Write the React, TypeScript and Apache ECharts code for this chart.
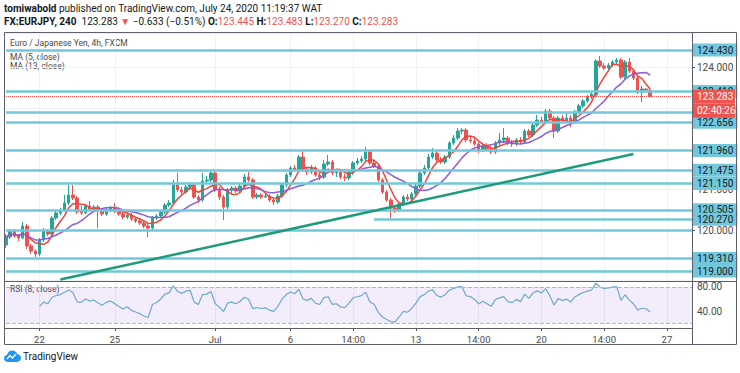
import React, { useEffect, useRef } from 'react';
import * as echarts from 'echarts';

// [open, close, low, high] per 4h bar (EUR/JPY, FXCM)
const candles: number[][] = [
[119.639,119.835,119.565,119.909],[119.835,119.983,119.786,120.032],[119.983,119.860,119.811,120.032],[119.860,119.811,119.737,119.909],
[119.811,120.105,119.786,120.204],[120.105,119.614,119.541,120.155],[119.614,119.491,119.418,119.663],[119.491,119.418,119.344,119.541],
[119.418,119.762,119.369,119.811],[119.762,119.983,119.712,120.056],[119.983,119.909,119.860,120.032],[119.909,120.302,119.860,120.351],
[120.302,120.425,120.253,120.498],[120.425,120.498,120.376,120.548],[120.498,120.670,120.449,120.867],[120.670,120.867,120.621,121.113],
[120.867,120.793,120.744,121.113],[120.793,120.449,120.400,120.842],[120.474,120.425,120.376,120.597],[120.425,120.597,120.400,120.646],
[120.597,120.523,120.474,120.719],[120.523,120.572,120.474,120.621],[120.572,120.474,120.056,120.621],[120.474,120.400,120.351,120.548],
[120.400,120.498,120.351,120.548],[120.498,120.548,120.449,120.597],[120.548,120.474,120.425,120.670],[120.474,120.400,120.351,120.523],
[120.400,120.326,120.277,120.449],[120.326,120.376,120.277,120.425],[120.376,120.277,120.228,120.425],[120.277,120.228,120.179,120.326],
[120.228,120.179,120.130,120.277],[120.179,120.105,120.056,120.228],[120.105,120.056,119.835,120.179],[120.056,120.302,120.007,120.351],
[120.302,120.351,120.253,120.400],[120.351,120.449,120.302,120.498],[120.449,120.621,120.400,120.670],[120.621,120.670,120.572,120.744],
[120.670,121.113,120.621,121.236],[121.113,120.990,120.941,121.408],[120.990,120.941,120.892,121.064],[120.941,121.064,120.892,121.113],
[121.064,121.113,120.990,121.162],[121.113,120.818,120.769,121.162],[120.818,120.744,120.670,120.867],[120.744,121.211,120.695,121.408],
[121.211,121.236,121.137,121.334],[121.236,121.408,121.187,121.482],[121.408,120.990,120.941,121.457],[120.990,120.818,120.744,121.064],
[120.818,120.572,120.253,120.867],[120.572,120.990,120.523,121.039],[120.990,121.039,120.916,121.088],[121.039,120.965,120.916,121.088],
[120.965,121.088,120.916,121.137],[121.088,121.309,121.039,121.383],[121.309,121.236,121.187,121.432],[121.236,120.818,120.769,121.285],
[120.818,120.867,120.769,120.916],[120.867,120.818,120.769,120.916],[120.818,120.842,120.793,120.916],[120.842,120.744,120.695,120.892],
[120.744,120.695,120.621,120.793],[120.695,120.842,120.646,120.892],[120.842,121.113,120.793,121.162],[121.113,121.359,121.064,121.408],
[121.359,121.531,121.309,121.580],[121.531,121.482,121.432,121.604],[121.482,121.801,121.432,121.850],[121.801,121.482,121.432,121.973],
[121.482,121.432,121.359,121.555],[121.432,121.531,121.383,121.604],[121.531,121.359,121.309,121.580],[121.359,121.309,121.236,121.432],
[121.309,121.629,121.260,121.727],[121.629,121.678,121.580,121.850],[121.678,121.408,121.359,121.727],[121.408,121.432,121.309,121.506],
[121.432,121.309,121.260,121.482],[121.309,121.285,121.211,121.383],[121.285,121.432,121.236,121.482],[121.432,121.654,121.359,121.703],
[121.654,121.703,121.604,121.777],[121.703,121.752,121.654,121.826],[121.752,121.924,121.703,122.047],[121.924,121.654,121.604,121.973],
[121.654,121.580,121.531,121.727],[121.580,121.236,121.187,121.629],[121.236,120.941,120.892,121.285],[120.941,120.744,120.695,120.990],
[120.744,120.548,120.302,120.793],[120.548,120.498,120.425,120.621],[120.498,120.646,120.449,120.695],[120.646,120.818,120.597,120.867],
[120.818,120.769,120.719,120.892],[120.769,120.892,120.719,120.941],[120.892,121.088,120.842,121.137],[121.088,121.408,121.039,121.457],
[121.408,121.531,121.359,121.604],[121.531,121.801,121.482,121.875],[121.801,121.899,121.752,122.022],[121.899,121.727,121.678,121.948],
[121.727,121.678,121.629,121.801],[121.678,121.801,121.629,121.850],[121.801,122.145,121.752,122.194],[122.145,122.268,122.096,122.342],
[122.268,122.440,122.219,122.514],[122.440,122.464,122.366,122.514],[122.464,122.219,122.170,122.514],[122.219,122.194,122.145,122.292],
[122.194,122.121,122.071,122.268],[122.121,121.973,121.899,122.170],[121.973,122.071,121.924,122.121],[122.071,121.998,121.948,122.145],
[121.998,121.924,121.875,122.071],[121.924,122.145,121.875,122.194],[122.145,122.219,122.096,122.391],[122.219,122.268,122.145,122.514],
[122.268,122.145,122.096,122.317],[122.145,122.121,122.047,122.219],[122.121,122.219,122.071,122.268],[122.219,122.170,122.121,122.292],
[122.170,122.440,122.121,122.489],[122.440,122.342,122.292,122.489],[122.342,122.587,122.292,122.636],[122.587,122.710,122.538,122.833],
[122.710,122.661,122.612,122.784],[122.661,122.931,122.612,122.980],[122.931,122.759,122.710,122.980],[122.759,122.440,122.268,122.808],
[122.440,122.759,122.391,122.808],[122.759,122.686,122.636,122.833],[122.686,122.759,122.636,122.907],[122.759,122.661,122.538,122.833],
[122.661,122.907,122.612,122.956],[122.907,123.054,122.858,123.103],[123.054,123.177,123.005,123.226],[123.177,123.275,123.128,123.324],
[123.275,123.348,123.226,123.398],[123.324,124.160,123.275,124.209],[124.160,124.037,123.988,124.283],[124.037,123.988,123.939,124.111],
[123.988,124.061,123.939,124.111],[124.061,124.135,124.012,124.184],[124.135,124.184,124.086,124.233],[124.184,123.767,123.717,124.233],
[123.767,124.135,123.717,124.184],[124.135,123.914,123.865,124.233],[123.914,123.742,123.693,123.963],[123.742,123.398,123.348,123.791],
[123.398,123.472,123.152,123.546],[123.472,123.445,123.420,123.500],[123.445,123.283,123.270,123.483],
];

const firstBar = '2020-06-18 18:00'; // WAT
const barSlots = 165;
const tickDates = ['2020-06-22 02:00','2020-06-25 02:00','2020-07-01 02:00','2020-07-06 02:00','2020-07-08 14:00','2020-07-13 02:00','2020-07-15 14:00','2020-07-20 02:00','2020-07-22 14:00','2020-07-27 02:00'];
const tickTexts = ['22','25','Jul','6','14:00','13','14:00','20','14:00','27'];

const labeledLevels = [124.430, 123.410, 122.890, 122.656, 121.960, 121.475, 121.150, 120.505, 119.310, 119.000];
const plainLevels = [120.000];
const partialLevel = { value: 120.270, fromBar: 88 };
const lastPrice = 123.283;
const countdown = '02:40:26';
const trendFrom = [13, 118.79];
const trendTo = [150, 121.875];
const priceMin = 118.779, priceMax = 124.848;
const shownPriceTicks = [124, 121, 120];
const rsiMin = 11.67, rsiMax = 88.33;
const rsiTicks = [40, 80];
const rsiBand = [20, 80];
const maFast = 5, maSlow = 13, rsiLen = 8;

const FONT = 'Roboto, "Liberation Sans", sans-serif';

function pad(n: number) { return n < 10 ? '0' + n : '' + n; }
function buildCategories(): string[] {
  const [d, t] = firstBar.split(' ');
  const [y, m, day] = d.split('-').map(Number);
  const h = Number(t.split(':')[0]);
  let ts = Date.UTC(y, m - 1, day, h);
  const out: string[] = [];
  while (out.length < barSlots) {
    const dt = new Date(ts);
    const wd = dt.getUTCDay(), hr = dt.getUTCHours();
    const closed = wd === 6 || (wd === 0 && hr < 22) || (wd === 5 && hr === 22);
    if (!closed) out.push(`${dt.getUTCFullYear()}-${pad(dt.getUTCMonth() + 1)}-${pad(dt.getUTCDate())} ${pad(hr)}:00`);
    ts += 4 * 3600 * 1000;
  }
  return out;
}

function sma(vals: number[], n: number) {
  return vals.map((_, i) => {
    const s = Math.max(0, i - n + 1);
    const w = vals.slice(s, i + 1);
    return +(w.reduce((a, b) => a + b, 0) / w.length).toFixed(4);
  });
}
function rsi(vals: number[], n: number) {
  const out: (number | string)[] = vals.map(() => '-');
  let ag = 0, al = 0;
  for (let i = 1; i < vals.length; i++) {
    const ch = vals[i] - vals[i - 1];
    const g = Math.max(ch, 0), l = Math.max(-ch, 0);
    if (i <= n) { ag += g / n; al += l / n; }
    else { ag = (ag * (n - 1) + g) / n; al = (al * (n - 1) + l) / n; }
    if (i >= n) out[i] = al === 0 ? 100 : +(100 - 100 / (1 + ag / al)).toFixed(2);
  }
  return out;
}

echarts.graphic.registerShape('tvlogo', echarts.graphic.extendPath(
  'M4 12 C1.5 12 0 10.4 0 8.5 C0 6.7 1.3 5.3 3 5.1 C3.4 2.3 5.6 0.5 8.3 0.5 C10.6 0.5 12.5 1.9 13.2 4 C15.3 4.2 17 5.9 17 8.1 C17 10.3 15.3 12 13 12 Z', {}) as any);

export default function App() {
  const ref = useRef<HTMLDivElement>(null);
  useEffect(() => {
    if (!ref.current) return;
    const chart = echarts.init(ref.current, undefined, { renderer: 'svg' });
    const cats = buildCategories();
    const closes = candles.map(c => c[1]);
    const ma5 = sma(closes, maFast);
    const ma13 = sma(closes, maSlow);
    const rsiVals = rsi(closes, rsiLen);
    const tickSet = new Set(tickDates);
    const tickText = (v: string) => tickTexts[tickDates.indexOf(v)] ?? '';
    const isTick = (_i: number, v: string) => tickSet.has(v);

    const cyan = '#72c8da';
    const lvlLine = { color: cyan, width: 2.5, type: 'solid' };
    const mkLevelLabel = (v: number) => ({
      show: true, position: 'end', distance: 1,
      formatter: () => v.toFixed(3),
      backgroundColor: cyan, color: '#131722', fontSize: 10, fontFamily: FONT,
      padding: [2, 4, 1, 4],
    });
    const markData: any[] = [
      ...labeledLevels.map(v => ({ yAxis: v, label: mkLevelLabel(v), lineStyle: lvlLine })),
      ...plainLevels.map(v => ({ yAxis: v, label: { show: false }, lineStyle: lvlLine })),
      [
        { coord: [partialLevel.fromBar, partialLevel.value], lineStyle: lvlLine, label: mkLevelLabel(partialLevel.value) },
        { coord: [cats.length - 1, partialLevel.value] },
      ],
      [
        { coord: [trendFrom[0], trendFrom[1]], lineStyle: { color: '#1f9a7c', width: 2.5, type: 'solid' }, label: { show: false } },
        { coord: [trendTo[0], trendTo[1]] },
      ],
      {
        yAxis: lastPrice,
        lineStyle: { color: '#ef5350', width: 1, type: 'dotted' },
        label: {
          show: true, position: 'end', distance: 1,
          formatter: `{e| }\n{p|${lastPrice.toFixed(3)}}\n{c|${countdown}}`,
          rich: {
            e: { height: 14, fontSize: 10 },
            p: { height: 14, width: 36, backgroundColor: '#ef5350', color: '#ffffff', fontSize: 10, fontFamily: FONT, padding: [0, 2, 0, 4] },
            c: { height: 14, width: 36, backgroundColor: '#ef5350', color: '#ffffff', fontSize: 10, fontFamily: FONT, padding: [0, 2, 0, 4] },
          },
        },
      },
    ];

    const gridLine = { show: true, lineStyle: { color: '#eef1f6', width: 1 } };

    chart.setOption({
      animation: false,
      backgroundColor: '#ffffff',
      textStyle: { fontFamily: FONT },
      grid: [
        { left: 6, right: 48, top: 33, height: 247 },
        { left: 6, right: 48, top: 282, height: 46 },
      ],
      xAxis: [
        { type: 'category', gridIndex: 0, data: cats, boundaryGap: false,
          axisLine: { show: false }, axisTick: { show: false }, axisLabel: { show: false },
          splitLine: { ...gridLine, interval: isTick } },
        { type: 'category', gridIndex: 1, data: cats, boundaryGap: false,
          axisLine: { show: false },
          axisTick: { show: true, interval: isTick, length: 3, lineStyle: { color: '#555' } },
          axisLabel: { show: true, interval: isTick, formatter: tickText, color: '#4a4a4a', fontSize: 9.5, fontFamily: FONT, margin: 6 },
          splitLine: { ...gridLine, interval: isTick } },
      ],
      yAxis: [
        { type: 'value', gridIndex: 0, position: 'right', min: priceMin, max: priceMax, splitNumber: 6,
          axisLine: { show: false },
          axisTick: { show: true, length: 3, lineStyle: { color: '#555' } },
          axisLabel: { color: '#4a4a4a', fontSize: 10, fontFamily: FONT, margin: 5, showMinLabel: false, showMaxLabel: false,
            formatter: (v: number) => (shownPriceTicks.some(t => Math.abs(t - v) < 1e-6) ? v.toFixed(3) : '') },
          splitLine: gridLine },
        { type: 'value', gridIndex: 1, position: 'right', min: rsiMin, max: rsiMax, splitNumber: 4,
          axisLine: { show: false },
          axisTick: { show: false },
          axisLabel: { color: '#4a4a4a', fontSize: 10, fontFamily: FONT, margin: 5,
            showMinLabel: false, showMaxLabel: false,
            formatter: (v: number) => (rsiTicks.includes(v) ? v.toFixed(2) : '') },
          splitLine: { show: false } },
      ],
      series: [
        { type: 'candlestick', xAxisIndex: 0, yAxisIndex: 0, data: candles.map(c => [c[0], c[1], c[2], c[3]]),
          barWidth: 3,
          itemStyle: { color: '#26a69a', color0: '#ef5350', borderColor: '#26a69a', borderColor0: '#ef5350', borderWidth: 1 },
          markLine: { silent: true, symbol: ['none', 'none'], precision: 3, data: markData } },
        { type: 'line', xAxisIndex: 0, yAxisIndex: 0, data: ma5, showSymbol: false, symbol: 'none',
          lineStyle: { color: '#f0443a', width: 1.5 }, itemStyle: { color: '#f0443a' }, silent: true },
        { type: 'line', xAxisIndex: 0, yAxisIndex: 0, data: ma13, showSymbol: false, symbol: 'none',
          lineStyle: { color: '#8b5cd6', width: 1.5 }, itemStyle: { color: '#8b5cd6' }, silent: true },
        { type: 'line', xAxisIndex: 1, yAxisIndex: 1, data: rsiVals, showSymbol: false, symbol: 'none',
          lineStyle: { width: 1.2, color: '#6eaac6' }, itemStyle: { color: '#6eaac6' }, silent: true,
          markArea: { silent: true, itemStyle: { color: 'rgba(150,100,220,0.12)' },
            data: [[{ yAxis: rsiBand[0] }, { yAxis: rsiBand[1] }]] },
          markLine: { silent: true, symbol: ['none', 'none'], label: { show: false },
            lineStyle: { color: '#bba9d6', type: 'dashed', width: 1 },
            data: rsiBand.map(v => ({ yAxis: v })) } },
      ],
      graphic: [
        { type: 'rect', shape: { x: 4.5, y: 32.5, width: 732, height: 312 }, style: { fill: 'none', stroke: '#5d606b', lineWidth: 1 }, silent: true, z: 50 },
        { type: 'line', shape: { x1: 692.5, y1: 33, x2: 692.5, y2: 345 }, style: { stroke: '#5d606b', lineWidth: 1 }, silent: true, z: 50 },
        { type: 'line', shape: { x1: 4, y1: 281.5, x2: 737, y2: 281.5 }, style: { stroke: '#5d606b', lineWidth: 1 }, silent: true, z: 50 },
        { type: 'line', shape: { x1: 4, y1: 328.5, x2: 692, y2: 328.5 }, style: { stroke: '#5d606b', lineWidth: 1 }, silent: true, z: 50 },
        { type: 'text', x: 4, y: 8, style: {
          text: '{b|tomiwabold}{n| published on TradingView.com, July 24, 2020 11:19:37 WAT}',
          verticalAlign: 'middle',
          rich: { b: { fontWeight: 'bold', fontSize: 10, fontFamily: FONT, fill: '#131722' }, n: { fontSize: 10, fontFamily: FONT, fill: '#131722' } } } },
        { type: 'text', x: 4, y: 21, style: {
          text: '{b|FX:EURJPY, 240}{n|  123.283 }{r|▼}{n| −0.633 (−0.51%) }{b|O:}{r|123.445 }{b|H:}{r|123.483 }{b|L:}{r|123.270 }{b|C:}{r|123.283}',
          verticalAlign: 'middle',
          rich: {
            b: { fontWeight: 'bold', fontSize: 10, fontFamily: FONT, fill: '#131722' },
            n: { fontSize: 10, fontFamily: FONT, fill: '#131722' },
            r: { fontSize: 10, fontFamily: FONT, fill: '#ef5350' } } } },
        { type: 'text', x: 10, y: 43, style: { text: 'Euro / Japanese Yen, 4h, FXCM', fontSize: 8.5, fontFamily: FONT, fill: '#4a4a4a', verticalAlign: 'middle' } },
        { type: 'text', x: 10, y: 57, style: { text: 'MA (5, close)', fontSize: 8.5, fontFamily: FONT, fill: '#4a4a4a', verticalAlign: 'middle' } },
        { type: 'text', x: 10, y: 66, style: { text: 'MA (13, close)', fontSize: 8.5, fontFamily: FONT, fill: '#4a4a4a', verticalAlign: 'middle' } },
        { type: 'text', x: 10, y: 289, style: { text: 'RSI (8, close)', fontSize: 8.5, fontFamily: FONT, fill: '#4a4a4a', verticalAlign: 'middle' } },
        { type: 'tvlogo', x: 4, y: 350, scaleX: 1, scaleY: 1, style: { fill: '#2196f3' } },
        { type: 'polyline', shape: { points: [[7, 359], [10, 355.5], [12.5, 358], [16, 354]] }, style: { stroke: '#ffffff', lineWidth: 1.3, fill: 'none' } },
        { type: 'text', x: 23, y: 356, style: { text: 'TradingView', fontSize: 10, fontFamily: FONT, fill: '#131722', verticalAlign: 'middle' } },
      ],
    });
    return () => chart.dispose();
  }, []);
  return <div ref={ref} style={{ position: 'fixed', left: 0, top: 0, width: 740, height: 373 }} />;
}
